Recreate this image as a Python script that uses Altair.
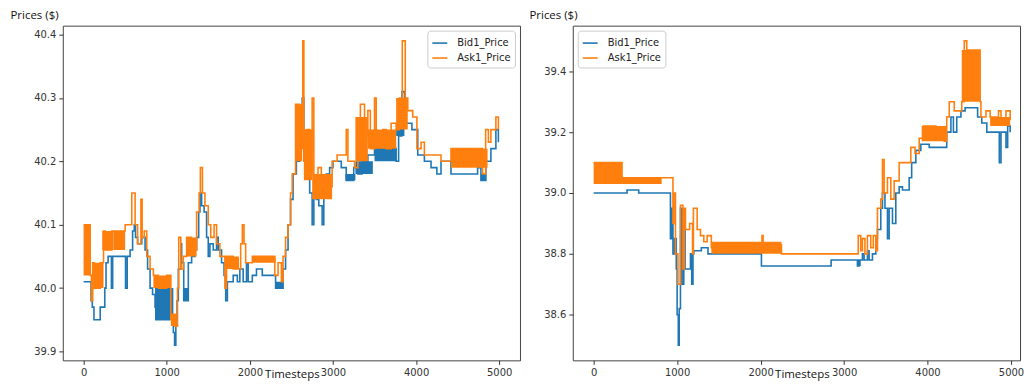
import altair as alt
import pandas as pd

BLUE = "#1f77b4"
ORANGE = "#ff7f0e"
SERIES = ["Bid1_Price", "Ask1_Price"]

# ---------------- Left panel ----------------
left_bid_t = [0, 90, 105, 125, 200, 255, 270, 295, 335, 350, 505, 525, 560, 590, 610, 625, 650, 700, 740, 770,
              800, 830, 860, 870, 900, 910, 940, 960, 990, 1000, 1030, 1060, 1080, 1095, 1110, 1125, 1140, 1170,
              1180, 1205, 1260, 1300, 1340, 1360, 1385, 1400, 1420, 1450, 1480, 1500, 1520, 1560, 1600, 1620,
              1660, 1690, 1710, 1730, 1800, 1850, 1880, 1920, 1960, 1980, 2030, 2080, 2150, 2310, 2400, 2430,
              2460, 2490, 2520, 2560, 2600, 2630, 2650, 2680, 2720, 2750, 2770, 2800, 2830, 2870, 2890, 2920,
              2960, 3000, 3100, 3160, 3250, 3300, 3350, 3420, 3500, 3530, 3600, 3640, 3700, 3760, 3790, 3830,
              3860, 3950, 4020, 4100, 4180, 4250, 4300, 4420, 4740, 4780, 4840, 4900, 4960, 4990]
left_bid_v = [40.01, 39.98, 39.97, 39.95, 39.97, 40.00, 40.04, 40.05, 40.00, 40.05, 40.00, 40.05, 40.06, 40.09,
              40.10, 40.08, 40.07, 40.08, 40.06, 40.03, 40.00, 39.99, 39.97, 39.95, 40.00, 39.95, 39.99, 39.95,
              40.00, 39.95, 39.96, 39.95, 39.93, 39.91, 39.94, 39.98, 40.03, 40.07, 40.04, 39.98, 40.04, 40.05,
              40.06, 40.08, 40.12, 40.15, 40.13, 40.12, 40.08, 40.05, 40.07, 40.06, 40.08, 40.06, 40.04, 40.02,
              39.98, 40.01, 40.02, 40.01, 40.03, 40.01, 40.04, 40.01, 40.02, 40.03, 40.02, 40.00, 40.03, 40.06,
              40.10, 40.14, 40.18, 40.20, 40.25, 40.30, 40.20, 40.18, 40.15, 40.10, 40.15, 40.14, 40.13, 40.10,
              40.15, 40.18, 40.19, 40.20, 40.19, 40.17, 40.19, 40.18, 40.20, 40.21, 40.24, 40.22, 40.23, 40.21,
              40.22, 40.20, 40.24, 40.31, 40.26, 40.25, 40.21, 40.20, 40.19, 40.18, 40.20, 40.18, 40.19, 40.17,
              40.20, 40.22, 40.25, 40.23]

left_ask_t = [0, 80, 95, 110, 130, 200, 240, 260, 340, 500, 580, 620, 650, 690, 705, 730, 760, 800, 840, 900,
              1000, 1050, 1100, 1130, 1145, 1170, 1200, 1240, 1300, 1360, 1390, 1405, 1430, 1460, 1500, 1530,
              1570, 1600, 1640, 1700, 1720, 1800, 1890, 1910, 1930, 1950, 2030, 2300, 2340, 2380, 2400, 2430,
              2460, 2490, 2510, 2550, 2600, 2637, 2650, 2680, 2720, 2750, 2770, 2820, 2860, 2900, 2950, 2990,
              3050, 3160, 3180, 3260, 3300, 3330, 3380, 3420, 3450, 3500, 3520, 3600, 3640, 3700, 3760, 3800,
              3834, 3870, 3900, 3960, 4010, 4060, 4100, 4200, 4300, 4420, 4800, 4837, 4870, 4900, 4960, 4990]
left_ask_v = [40.10, 40.02, 39.98, 40.04, 40.00, 40.04, 40.09, 40.06, 40.09, 40.10, 40.15, 40.10, 40.07, 40.14,
              40.08, 40.09, 40.05, 40.03, 40.02, 40.00, 40.02, 39.95, 39.94, 40.00, 40.08, 40.03, 40.05, 40.08,
              40.06, 40.12, 40.15, 40.19, 40.15, 40.13, 40.10, 40.08, 40.10, 40.07, 40.05, 40.00, 40.05, 40.03,
              40.07, 40.10, 40.07, 40.04, 40.05, 40.02, 40.04, 40.01, 40.05, 40.08, 40.10, 40.15, 40.18, 40.29,
              40.22, 40.39, 40.20, 40.25, 40.18, 40.30, 40.17, 40.19, 40.15, 40.17, 40.16, 40.20, 40.21, 40.25,
              40.20, 40.19, 40.25, 40.29, 40.24, 40.28, 40.22, 40.30, 40.24, 40.25, 40.22, 40.26, 40.25, 40.30,
              40.39, 40.30, 40.28, 40.27, 40.22, 40.23, 40.21, 40.21, 40.20, 40.22, 40.18, 40.25, 40.23, 40.25,
              40.27, 40.25]

# dense back-and-forth quoting (start, end, low, high)
left_bid_band_t0 = [860, 1200, 2310, 3150, 3270, 3500, 3760, 4780]
left_bid_band_t1 = [1080, 1260, 2400, 3270, 3480, 3760, 3860, 4840]
left_bid_band_lo = [39.95, 39.98, 40.00, 40.17, 40.18, 40.20, 40.24, 40.17]
left_bid_band_hi = [40.00, 40.00, 40.01, 40.18, 40.20, 40.23, 40.26, 40.18]

left_ask_band_t0 = [0, 120, 225, 360, 840, 1050, 1240, 1700, 2030, 2550, 2650, 2750, 3270, 3420, 3760, 4420]
left_ask_band_t1 = [80, 240, 360, 500, 1050, 1120, 1360, 1870, 2310, 2630, 2750, 2990, 3420, 3760, 3900, 4860]
left_ask_band_lo = [40.02, 40.00, 40.06, 40.06, 40.00, 39.94, 40.05, 40.03, 40.04, 40.20, 40.17, 40.14, 40.20,
                    40.22, 40.25, 40.19]
left_ask_band_hi = [40.10, 40.04, 40.09, 40.09, 40.02, 39.96, 40.08, 40.05, 40.05, 40.29, 40.25, 40.18, 40.27,
                    40.25, 40.30, 40.22]

# ---------------- Right panel ----------------
right_bid_t = [0, 400, 540, 920, 935, 950, 970, 990, 1000, 1014, 1025, 1040, 1060, 1080, 1095, 1130, 1160, 1175,
               1190, 1200, 1290, 1370, 2010, 2845, 3160, 3180, 3220, 3240, 3280, 3300, 3340, 3380, 3400, 3440,
               3460, 3490, 3520, 3540, 3580, 3620, 3660, 3700, 3780, 3810, 3860, 3920, 4020, 4230, 4280, 4310,
               4350, 4400, 4450, 4600, 4650, 4710, 4860, 4880, 4940, 4960, 4990]
right_bid_v = [39.00, 39.01, 39.00, 38.85, 38.95, 38.80, 38.85, 38.75, 38.60, 38.50, 38.62, 38.95, 38.70, 38.88,
               38.75, 38.75, 38.80, 38.70, 38.80, 38.81, 38.82, 38.80, 38.76, 38.78, 38.76, 38.78, 38.80, 38.78,
               38.81, 38.78, 38.80, 38.85, 38.88, 38.95, 39.00, 38.95, 38.85, 38.95, 38.90, 39.00, 39.02, 39.01,
               39.05, 39.10, 39.14, 39.16, 39.15, 39.20, 39.25, 39.20, 39.25, 39.27, 39.28, 39.25, 39.23, 39.20,
               39.10, 39.20, 39.15, 39.22, 39.20]

right_ask_t = [0, 340, 935, 950, 960, 980, 1010, 1040, 1070, 1085, 1100, 1150, 1185, 1195, 1240, 1280, 1320,
               1360, 1410, 2017, 2030, 2250, 3170, 3200, 3220, 3250, 3280, 3320, 3350, 3380, 3400, 3440, 3460,
               3480, 3520, 3560, 3600, 3660, 3700, 3800, 3850, 3900, 3950, 4100, 4200, 4230, 4260, 4320, 4410,
               4440, 4470, 4630, 4640, 4700, 4750, 4850, 4880, 4940, 4990]
right_ask_v = [39.10, 39.05, 39.05, 38.90, 39.00, 38.80, 38.70, 38.96, 38.75, 38.95, 38.88, 38.90, 38.80, 38.95,
               38.88, 38.86, 38.84, 38.86, 38.82, 38.86, 38.83, 38.80, 38.86, 38.81, 38.85, 38.80, 38.86, 38.82,
               38.86, 38.81, 38.95, 38.98, 39.11, 39.00, 39.05, 38.98, 39.04, 39.10, 39.10, 39.15, 39.13, 39.18,
               39.22, 39.20, 39.17, 39.25, 39.30, 39.27, 39.30, 39.50, 39.47, 39.30, 39.25, 39.27, 39.25, 39.27,
               39.23, 39.27, 39.24]

right_bid_band_t0 = [3160]
right_bid_band_t1 = [3200]
right_bid_band_lo = [38.76]
right_bid_band_hi = [38.78]

right_ask_band_t0 = [0, 340, 1410, 3930, 4410, 4750]
right_ask_band_t1 = [340, 815, 2250, 4230, 4630, 4990]
right_ask_band_lo = [39.03, 39.03, 38.80, 39.17, 39.30, 39.22]
right_ask_band_hi = [39.10, 39.05, 38.84, 39.22, 39.47, 39.25]

X_TICKS = [0, 1000, 2000, 3000, 4000, 5000]


def panel(bid_t, bid_v, ask_t, ask_v, bb, ab, xdom, ydom, yticks, width, title_x, xtitle_x, legend_orient):
    bid = pd.DataFrame({"t": bid_t, "v": bid_v, "series": SERIES[0]})
    ask = pd.DataFrame({"t": ask_t, "v": ask_v, "series": SERIES[1]})
    bband = pd.DataFrame({"t0": bb[0], "t1": bb[1], "lo": bb[2], "hi": bb[3]})
    aband = pd.DataFrame({"t0": ab[0], "t1": ab[1], "lo": ab[2], "hi": ab[3]})

    xscale = alt.Scale(domain=xdom, nice=False, zero=False)
    yscale = alt.Scale(domain=ydom, nice=False, zero=False)
    xaxis = alt.Axis(values=X_TICKS, format="d", title="Timesteps", titleX=xtitle_x, titleY=17,
                     titleAlign="center", titleBaseline="alphabetic")
    yaxis = alt.Axis(values=yticks, format=".1f", title="Prices ($)", titleAngle=0, titleAlign="left",
                     titleBaseline="alphabetic", titleX=title_x, titleY=-7)
    color = alt.Color("series:N", scale=alt.Scale(domain=SERIES, range=[BLUE, ORANGE]),
                      legend=alt.Legend(orient=legend_orient, title=None, offset=5))

    def band(df, col):
        return alt.Chart(df).mark_rect(color=col, clip=True, strokeWidth=0).encode(
            x=alt.X("t0:Q", scale=xscale, axis=xaxis), x2="t1:Q",
            y=alt.Y("lo:Q", scale=yscale, axis=yaxis), y2="hi:Q")

    def line(df):
        return alt.Chart(df).mark_line(interpolate="step-after", strokeWidth=1.6, clip=True).encode(
            x=alt.X("t:Q", scale=xscale, axis=xaxis),
            y=alt.Y("v:Q", scale=yscale, axis=yaxis),
            color=color)

    return alt.layer(band(bband, BLUE), line(bid), band(aband, ORANGE), line(ask)).properties(
        width=width, height=336)


left = panel(left_bid_t, left_bid_v, left_ask_t, left_ask_v,
             (left_bid_band_t0, left_bid_band_t1, left_bid_band_lo, left_bid_band_hi),
             (left_ask_band_t0, left_ask_band_t1, left_ask_band_lo, left_ask_band_hi),
             [-250, 5250], [39.886, 40.414], [39.9, 40.0, 40.1, 40.2, 40.3, 40.4], 459, -53, 230, "top-right")
right = panel(right_bid_t, right_bid_v, right_ask_t, right_ask_v,
              (right_bid_band_t0, right_bid_band_t1, right_bid_band_lo, right_bid_band_hi),
              (right_ask_band_t0, right_ask_band_t1, right_ask_band_lo, right_ask_band_hi),
              [-250, 5108], [38.45, 39.55], [38.6, 38.8, 39.0, 39.2, 39.4], 449, -44, 230, "top-left")

chart = alt.hconcat(left, right, spacing=7).resolve_scale(color="independent").resolve_legend(
    color="independent").properties(padding={"left": 1, "top": 0, "right": 0, "bottom": 0}).configure_view(
    stroke="#444444", strokeWidth=1).configure_axis(
    grid=False, domain=False, labelFont="DejaVu Sans", labelFontSize=10, labelColor="#333333",
    tickColor="#333333", tickSize=4, labelPadding=3, titleFont="Open Sans", titleFontSize=11.5,
    titleFontWeight="normal", titleColor="#111111").configure_legend(
    symbolType="stroke", symbolSize=225, symbolStrokeWidth=1.6, labelFont="DejaVu Sans", labelFontSize=10,
    labelColor="#222222", labelOffset=9, rowPadding=1, padding=4, strokeColor="#cccccc", cornerRadius=3,
    fillColor="white")

chart.save("out.html", embed_options={"renderer": "svg", "actions": False})
